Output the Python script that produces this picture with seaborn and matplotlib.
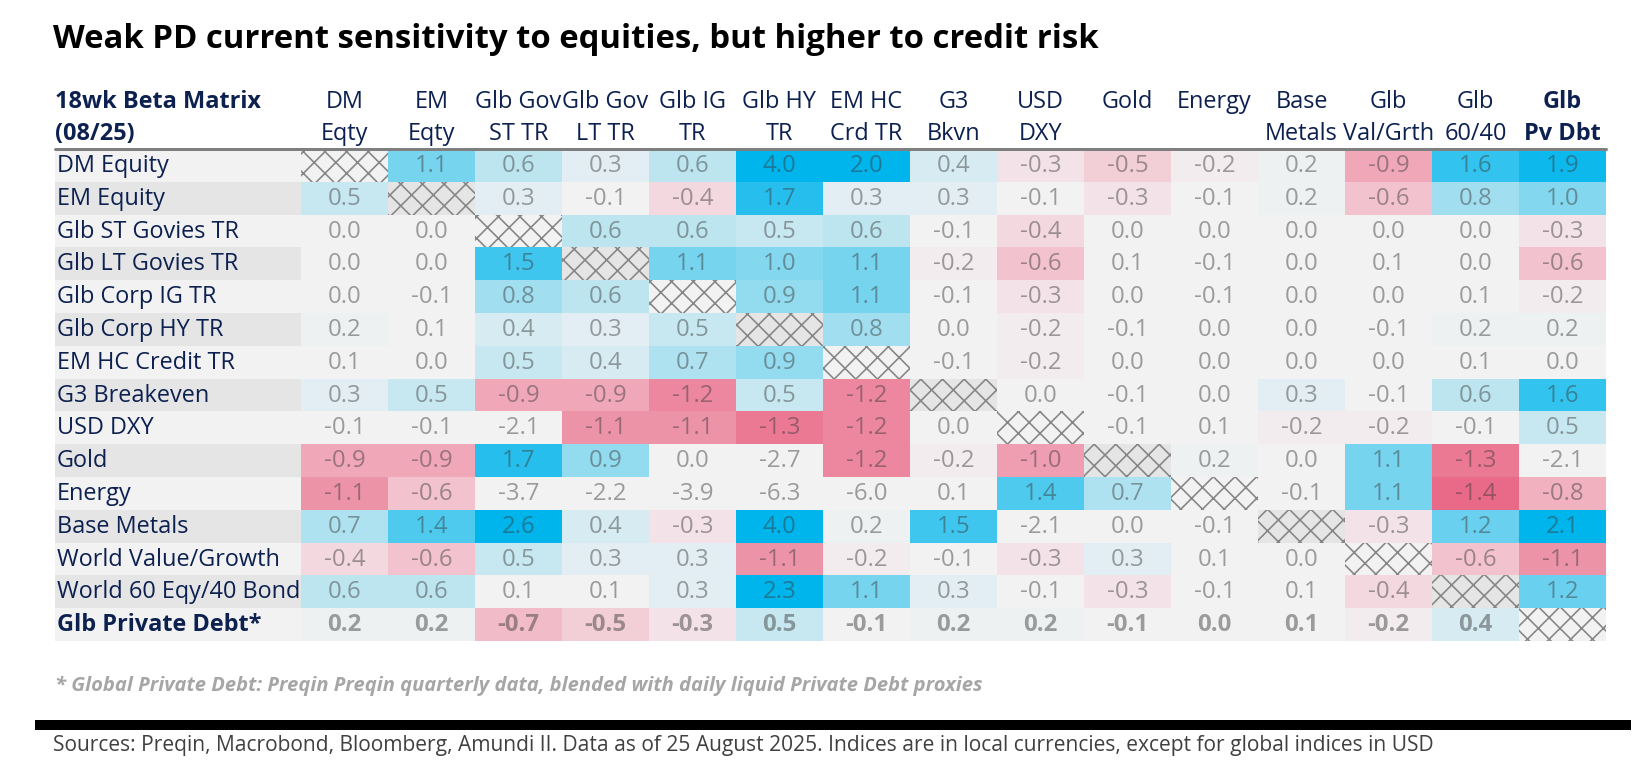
import numpy as np
import pandas as pd
import seaborn as sns
import matplotlib.pyplot as plt
from matplotlib.colors import LinearSegmentedColormap, TwoSlopeNorm
from matplotlib.patches import Rectangle

# --- data -------------------------------------------------------------
row_labels = ["DM Equity", "EM Equity", "Glb ST Govies TR", "Glb LT Govies TR",
              "Glb Corp IG TR", "Glb Corp HY TR", "EM HC Credit TR", "G3 Breakeven",
              "USD DXY", "Gold", "Energy", "Base Metals", "World Value/Growth",
              "World 60 Eqy/40 Bond", "Glb Private Debt*"]
head_top = ["DM", "EM", "Glb Gov", "Glb Gov", "Glb IG", "Glb HY", "EM HC", "G3",
            "USD", "Gold", "Energy", "Base", "Glb", "Glb", "Glb"]
head_bot = ["Eqty", "Eqty", "ST TR", "LT TR", "TR", "TR", "Crd TR", "Bkvn",
            "DXY", "", "", "Metals", "Val/Grth", "60/40", "Pv Dbt"]
X = np.nan
betas = [
    [X, 1.1, 0.6, 0.3, 0.6, 4.0, 2.0, 0.4, -0.3, -0.5, -0.2, 0.2, -0.9, 1.6, 1.9],
    [0.5, X, 0.3, -0.1, -0.4, 1.7, 0.3, 0.3, -0.1, -0.3, -0.1, 0.2, -0.6, 0.8, 1.0],
    [0.0, 0.0, X, 0.6, 0.6, 0.5, 0.6, -0.1, -0.4, 0.0, 0.0, 0.0, 0.0, 0.0, -0.3],
    [0.0, 0.0, 1.5, X, 1.1, 1.0, 1.1, -0.2, -0.6, 0.1, -0.1, 0.0, 0.1, 0.0, -0.6],
    [0.0, -0.1, 0.8, 0.6, X, 0.9, 1.1, -0.1, -0.3, 0.0, -0.1, 0.0, 0.0, 0.1, -0.2],
    [0.2, 0.1, 0.4, 0.3, 0.5, X, 0.8, 0.0, -0.2, -0.1, 0.0, 0.0, -0.1, 0.2, 0.2],
    [0.1, 0.0, 0.5, 0.4, 0.7, 0.9, X, -0.1, -0.2, 0.0, 0.0, 0.0, 0.0, 0.1, 0.0],
    [0.3, 0.5, -0.9, -0.9, -1.2, 0.5, -1.2, X, 0.0, -0.1, 0.0, 0.3, -0.1, 0.6, 1.6],
    [-0.1, -0.1, -2.1, -1.1, -1.1, -1.3, -1.2, 0.0, X, -0.1, 0.1, -0.2, -0.2, -0.1, 0.5],
    [-0.9, -0.9, 1.7, 0.9, 0.0, -2.7, -1.2, -0.2, -1.0, X, 0.2, 0.0, 1.1, -1.3, -2.1],
    [-1.1, -0.6, -3.7, -2.2, -3.9, -6.3, -6.0, 0.1, 1.4, 0.7, X, -0.1, 1.1, -1.4, -0.8],
    [0.7, 1.4, 2.6, 0.4, -0.3, 4.0, 0.2, 1.5, -2.1, 0.0, -0.1, X, -0.3, 1.2, 2.1],
    [-0.4, -0.6, 0.5, 0.3, 0.3, -1.1, -0.2, -0.1, -0.3, 0.3, 0.1, 0.0, X, -0.6, -1.1],
    [0.6, 0.6, 0.1, 0.1, 0.3, 2.3, 1.1, 0.3, -0.1, -0.3, -0.1, 0.1, -0.4, X, 1.2],
    [0.2, 0.2, -0.7, -0.5, -0.3, 0.5, -0.1, 0.2, 0.2, -0.1, 0.0, 0.1, -0.2, 0.4, X],
]
df = pd.DataFrame(betas, index=row_labels, columns=[a + " " + b for a, b in zip(head_top, head_bot)])

# --- style ------------------------------------------------------------
W, H, DPI = 1648, 771, 130
pt = lambda px: px * 72 / DPI
sns.set_style("white")
plt.rcParams["font.family"] = ["Open Sans", "DejaVu Sans"]
plt.rcParams["hatch.linewidth"] = 0.9
navy = "#0d2150"
light, dark = "#f2f2f2", "#e5e5e5"

cmap = LinearSegmentedColormap.from_list("beta", [
    (0.0, "#e8607f"), (0.033, "#e96a88"), (0.1, "#ec88a0"), (0.2, "#f0a8b8"),
    (0.3, "#f2c4ce"), (0.4, "#f3e3e8"), (0.45, light), (0.5, light), (0.5375, light),
    (0.575, "#e3eef3"), (0.65, "#bde5f0"), (0.775, "#77d4ef"), (0.9, "#33c3ee"),
    (1.0, "#00b4ec")])
cmap.set_under(light)
cmap.set_over("#00b4ec")
norm = TwoSlopeNorm(vmin=-1.5, vcenter=0, vmax=2.0)

fig = plt.figure(figsize=(W / DPI, H / DPI), dpi=DPI)
x0, x_lab, x1, y_top, y_bot = 55, 301, 1606, 149, 641
ax = fig.add_axes([x0 / W, 1 - y_bot / H, (x1 - x0) / W, (y_bot - y_top) / H])
n = len(row_labels)
lab_w = (x_lab - x0) / ((x1 - x_lab) / n)

# row shading (label column + hatched diagonal)
row_bg = [light if i % 2 == 0 else dark for i in range(n)]
ax.barh(np.arange(n) + 0.5, lab_w, left=-lab_w, height=1, color=row_bg, linewidth=0, zorder=0)
ax.bar(np.arange(n) + 0.5, 1, bottom=np.arange(n), width=1, color=row_bg,
       hatch="xx", edgecolor="#868686", linewidth=0, zorder=0)

sns.heatmap(df, ax=ax, cmap=cmap, norm=norm, cbar=False, mask=df.isna(),
            xticklabels=False, yticklabels=False)
ax.set_xlim(-lab_w, n)
ax.set_ylim(n, 0)
ax.axis("off")

# values
for i, r in enumerate(row_labels):
    bold = i == n - 1
    ax.text(-lab_w + 0.02, i + 0.52, r, ha="left", va="center", color=navy,
            fontsize=pt(23.5), fontweight="bold" if bold else "normal")
    for j in range(n):
        v = df.iat[i, j]
        if np.isnan(v):
            continue
        ax.text(j + 0.5, i + 0.52, f"{v:.1f}", ha="center", va="center",
                color="#3a3a3a", alpha=0.47, fontsize=pt(24),
                fontweight="bold" if bold else "normal")

# header
ax.plot([-lab_w, n], [0, 0], color="#7f7f7f", lw=pt(3), clip_on=False, zorder=5)
cell_h = (y_bot - y_top) / n
yl1, yl2 = (102 - y_top) / cell_h, (134 - y_top) / cell_h
for j in range(n):
    bold = j == n - 1
    for yy, s in ((yl1, head_top[j]), (yl2, head_bot[j])):
        ax.text(j + 0.5, yy, s, ha="center", va="center", color=navy, fontsize=pt(23.5),
                fontweight="bold" if bold else "normal")
ax.text(-lab_w, yl1, "18wk Beta Matrix", ha="left", va="center", color=navy,
        fontsize=pt(23.5), fontweight="bold")
ax.text(-lab_w, yl2, "(08/25)", ha="left", va="center", color=navy,
        fontsize=pt(23.5), fontweight="bold")

# titles and notes
fig.text(53 / W, 1 - 40 / H, "Weak PD current sensitivity to equities, but higher to credit risk",
         ha="left", va="center", fontsize=pt(32.9), fontweight="bold", color="black")
fig.text(55 / W, 1 - 686 / H,
         "* Global Private Debt: Preqin Preqin quarterly data, blended with daily liquid Private Debt proxies",
         ha="left", va="center", fontsize=pt(20.1), fontweight="bold", style="italic", color="#a6a6a6")
fig.add_artist(Rectangle((35 / W, 1 - 730 / H), (1631 - 35) / W, 10 / H,
                         transform=fig.transFigure, color="black", linewidth=0))
fig.text(53 / W, 1 - 745 / H,
         "Sources: Preqin, Macrobond, Bloomberg, Amundi II. Data as of 25 August 2025. Indices are in local currencies, except for global indices in USD",
         ha="left", va="center", fontsize=pt(21.0), color="#404040")

fig.savefig("out.png", dpi=DPI, facecolor="white")
